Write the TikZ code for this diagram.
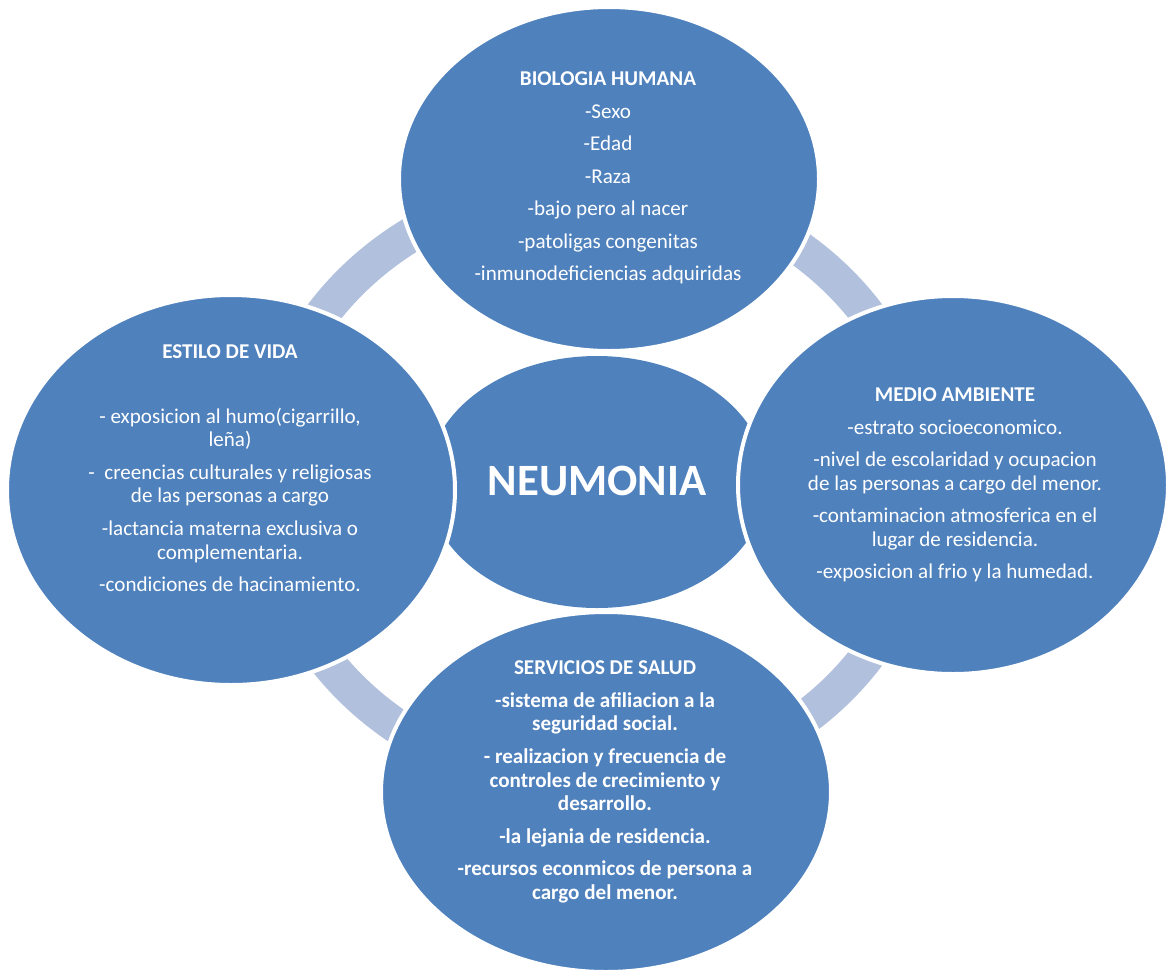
\documentclass[tikz,border=0pt]{standalone}
\usepackage{fontspec}
\setmainfont{Carlito}
\usepackage{tikz}
\usetikzlibrary{positioning}
\definecolor{azulcirc}{RGB}{79,129,189}
\definecolor{azulclaro}{RGB}{177,192,221}

\begin{document}
\begin{tikzpicture}[x=0.02cm, y=-0.02cm,
    burbuja/.style={fill=azulcirc, draw=white, line width=0.08cm},
    anillo/.style={draw=azulclaro, line width=0.7cm},
    texto/.style={text=white, align=center, font=\fontsize{12}{13.5}\selectfont},
    textob/.style={texto, font=\fontsize{12}{13.5}\selectfont\bfseries}]
    \useasboundingbox (0,0) rectangle (1166,974);

    % Anillo del ciclo (detras de todo)
    \draw[anillo] (595,485) ellipse [x radius=331, y radius=301];

    % Elipse central
    \fill[azulcirc] (597,482) ellipse [x radius=170, y radius=126];

    % Elipses de los cuatro factores
    \filldraw[burbuja] (609,179) ellipse [x radius=210, y radius=172];
    \filldraw[burbuja] (953,485) ellipse [x radius=215, y radius=189];
    \filldraw[burbuja] (606,792) ellipse [x radius=225, y radius=180];
    \filldraw[burbuja] (231,490) ellipse [x radius=224, y radius=195];

    % Textos
    \node[text=white, font=\fontsize{25.5}{30}\selectfont\bfseries] (neumonia) at (597,481) {NEUMONIA};

    \node[texto] (biologia) at (608,178) {\textbf{BIOLOGIA HUMANA}\\[5pt]
        -Sexo\\[5pt]
        -Edad\\[5pt]
        -Raza\\[5pt]
        -bajo pero al nacer\\[5pt]
        -patoligas congenitas\\[5pt]
        -inmunodeficiencias adquiridas};

    \node[texto] (estilo) at (230,468) {\textbf{ESTILO DE VIDA}\\[5pt]
        \mbox{}\\[5pt]
        - exposicion al humo(cigarrillo,\\
        leña)\\[5pt]
        -\ \ creencias culturales y religiosas\\
        de las personas a cargo\\[5pt]
        -lactancia materna exclusiva o\\
        complementaria.\\[5pt]
        -condiciones de hacinamiento.};

    \node[texto] (medio) at (955,485) {\textbf{MEDIO AMBIENTE}\\[5pt]
        -estrato socioeconomico.\\[5pt]
        -nivel de escolaridad y ocupacion\\
        de las personas a cargo del menor.\\[5pt]
        -contaminacion atmosferica en el\\
        lugar de residencia.\\[5pt]
        -exposicion al frio y la humedad.};

    \node[textob] (servicios) at (605,782) {SERVICIOS DE SALUD\\[5pt]
        -sistema de afiliacion a la\\
        seguridad social.\\[5pt]
        - realizacion y frecuencia de\\
        controles de crecimiento y\\
        desarrollo.\\[5pt]
        -la lejania de residencia.\\[5pt]
        -recursos econmicos de persona a\\
        cargo del menor.};
\end{tikzpicture}
\end{document}
